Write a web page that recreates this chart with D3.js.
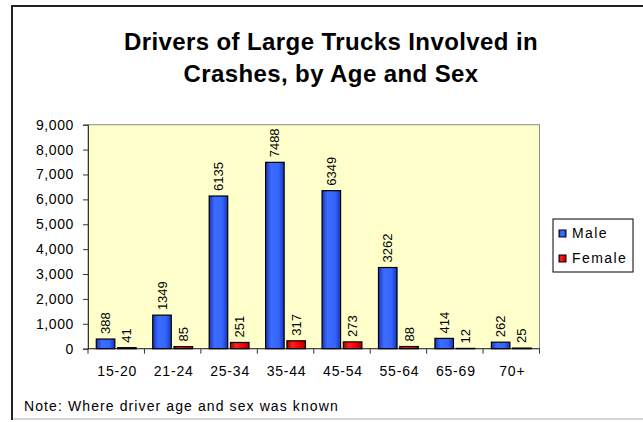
<!DOCTYPE html>
<html>
<head>
<meta charset="utf-8">
<script src="https://cdn.jsdelivr.net/npm/d3@7"></script>
<style>
  body { margin: 0; background: #fff; }
  svg { display: block; font-family: "Liberation Sans", Arial, sans-serif; }
</style>
</head>
<body>
<svg id="chart" width="643" height="422"></svg>
<script>
'use strict'

const ageGroups = ['15-20', '21-24', '25-34', '35-44', '45-54', '55-64', '65-69', '70+']
const sexes = ['Male', 'Female']
const maleDrivers = [388, 1349, 6135, 7488, 6349, 3262, 414, 262]
const femaleDrivers = [41, 85, 251, 317, 273, 88, 12, 25]
const yTicks = [0, 1000, 2000, 3000, 4000, 5000, 6000, 7000, 8000, 9000]
const titleLines = ['Drivers of Large Trucks Involved in', 'Crashes, by Age and Sex']
const noteText = 'Note: Where driver age and sex was known'

const svg = d3.select('#chart')
const plot = { left: 88, right: 539.5, top: 124.7, bottom: 348.7 }

// gradients for the bevelled bars
const defs = svg.append('defs')
const gradStops = {
    Male: ['#1a34b8', '#3d6dff', '#3366ff', '#1a34b8'],
    Female: ['#a80000', '#ff2020', '#ee0000', '#a80000']
}
sexes.forEach(s => {
    let g = defs.append('linearGradient').attr('id', `grad-${s}`).attr('x1', 0).attr('x2', 1).attr('y1', 0).attr('y2', 0)
    gradStops[s].forEach((c, i) => g.append('stop').attr('offset', [0, 0.3, 0.7, 1][i]).attr('stop-color', c))
})

// outer frame
svg.append('line').attr('x1', 12).attr('x2', 12).attr('y1', 5).attr('y2', 420).attr('stroke', '#222').attr('stroke-width', 2)
svg.append('line').attr('x1', 11).attr('x2', 643).attr('y1', 6).attr('y2', 6).attr('stroke', '#222').attr('stroke-width', 2)
svg.append('line').attr('x1', 13).attr('x2', 643).attr('y1', 419).attr('y2', 419).attr('stroke', '#c8c8c8').attr('stroke-width', 1.5)

// title
svg.append('text')
    .attr('text-anchor', 'middle')
    .attr('font-size', 24).attr('font-weight', 'bold').attr('letter-spacing', 0.4)
    .selectAll('tspan').data(titleLines).enter().append('tspan')
    .attr('x', 331).attr('y', (d, i) => 50 + i * 31.5)
    .text(d => d)

const x = d3.scaleBand().domain(ageGroups).range([plot.left, plot.right])
const xs = d3.scaleBand().domain(sexes).range([0, x.bandwidth()]).paddingInner(0.13).paddingOuter(0.39)
const y = d3.scaleLinear().domain([0, 9000]).range([plot.bottom, plot.top])
const color = d3.scaleOrdinal().domain(sexes).range(['url(#grad-Male)', 'url(#grad-Female)'])

svg.append('rect')
    .attr('x', plot.left).attr('y', plot.top)
    .attr('width', plot.right - plot.left).attr('height', plot.bottom - plot.top)
    .attr('fill', '#ffffcc').attr('stroke', '#8c8c8c').attr('stroke-width', 1)

// y axis
let yAxis = svg.append('g').attr('transform', `translate(${plot.left},0)`)
    .call(d3.axisLeft(y).tickValues(yTicks).tickSize(5).tickPadding(9).tickFormat(d3.format(',')))
yAxis.select('.domain').attr('stroke', '#333')
yAxis.selectAll('.tick line').attr('stroke', '#333')
yAxis.selectAll('text').attr('font-size', 14).attr('letter-spacing', 0.6).attr('fill', '#000')
    .attr('font-family', '"Liberation Sans", Arial, sans-serif')

// x axis: ticks on band edges
let xAxis = svg.append('g').attr('transform', `translate(0,${plot.bottom})`)
xAxis.append('line').attr('x1', plot.left).attr('x2', plot.right).attr('stroke', '#333')
xAxis.selectAll('.tk').data(ageGroups.concat(['end'])).enter().append('line')
    .attr('x1', (d, i) => i < ageGroups.length ? x(d) : plot.right)
    .attr('x2', (d, i) => i < ageGroups.length ? x(d) : plot.right)
    .attr('y1', 0).attr('y2', 5).attr('stroke', '#333')
xAxis.selectAll('.lbl').data(ageGroups).enter().append('text')
    .attr('x', d => x(d) + x.bandwidth() / 2 + 1).attr('y', 27)
    .attr('text-anchor', 'middle').attr('font-size', 14).attr('letter-spacing', 0.8)
    .text(d => d)

// bars
const rows = ageGroups.map((a, i) => ({ age: a, values: [{ sex: 'Male', v: maleDrivers[i] }, { sex: 'Female', v: femaleDrivers[i] }] }))

let groups = svg.append('g').selectAll('g').data(rows).enter().append('g')
    .attr('transform', d => `translate(${x(d.age)},0)`)

groups.selectAll('rect').data(d => d.values).enter().append('rect')
    .attr('x', d => xs(d.sex)).attr('width', xs.bandwidth())
    .attr('y', d => y(d.v)).attr('height', d => plot.bottom - y(d.v))
    .attr('fill', d => color(d.sex)).attr('stroke', '#000').attr('stroke-width', 1.2)

groups.selectAll('text').data(d => d.values).enter().append('text')
    .attr('transform', d => `translate(${xs(d.sex) + xs.bandwidth() / 2 + 4.5},${y(d.v) - 5}) rotate(-90)`)
    .attr('font-size', 13)
    .text(d => d.v)

// legend
let legend = svg.append('g').attr('transform', 'translate(553,219)')
legend.append('rect').attr('width', 80).attr('height', 53).attr('fill', '#fff').attr('stroke', '#000')
let items = legend.selectAll('.item').data(sexes).enter().append('g')
    .attr('transform', (d, i) => `translate(6,${10 + i * 25})`)
items.append('rect').attr('width', 7).attr('height', 7).attr('y', 1)
    .attr('fill', d => color(d)).attr('stroke', '#000')
items.append('text').attr('x', 13).attr('y', 8.5)
    .attr('font-size', 14).attr('letter-spacing', 1.4)
    .text(d => d)

// note
svg.append('text').attr('x', 24).attr('y', 411)
    .attr('font-size', 14).attr('letter-spacing', 1.1)
    .text(noteText)
</script>
</body>
</html>
